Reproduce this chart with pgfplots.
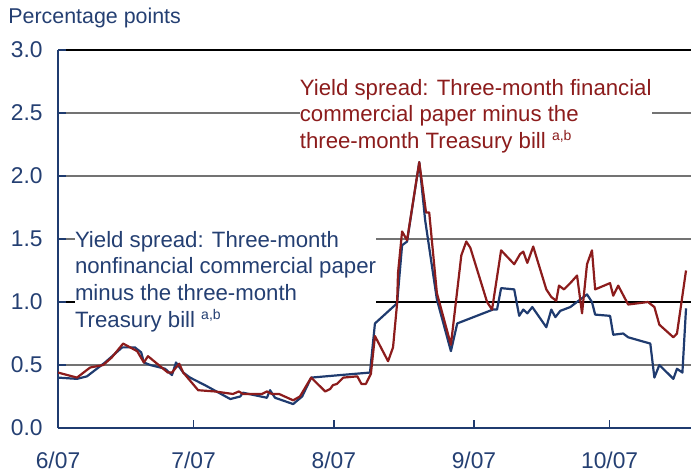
\documentclass[border=0pt]{standalone}
\usepackage{fontspec}
\setmainfont{Liberation Sans}
\usepackage{pgfplots}
\usepackage{pgfplotstable}
\pgfplotsset{compat=1.18}
\definecolor{navy}{HTML}{1F3B6F}
\definecolor{darkred}{HTML}{8C1C1C}
\definecolor{txtblue}{HTML}{243F72}

% x = days since 1 June 2007, y = percentage points
\pgfplotstableread{
x y
0 0.40
4.2 0.39
6.4 0.41
10.4 0.52
14.2 0.64
17.0 0.64
18.4 0.60
19.0 0.52
20.4 0.50
23.7 0.47
25.2 0.42
26.1 0.52
27.7 0.44
29.2 0.40
32.5 0.34
38.1 0.23
40.3 0.25
40.9 0.28
46.2 0.24
46.9 0.30
48.0 0.24
52.0 0.19
54.0 0.25
56.0 0.40
62.4 0.42
69.0 0.44
70.1 0.83
75.0 0.99
76.1 1.45
77.2 1.48
79.9 2.11
81.2 1.65
83.8 1.02
86.9 0.61
88.3 0.83
96.2 0.94
97.1 0.94
98.0 1.11
100.9 1.10
102.0 0.89
102.9 0.94
103.8 0.91
104.9 0.96
108.0 0.80
109.1 0.94
110.0 0.88
111.1 0.93
113.3 0.96
117.0 1.06
118.1 1.00
118.8 0.90
122.1 0.89
122.8 0.74
125.0 0.75
126.1 0.72
131.0 0.67
131.9 0.40
133.0 0.50
136.1 0.39
136.9 0.47
138.1 0.44
138.9 0.95
}\nonfin

\pgfplotstableread{
x y
0 0.44
4.2 0.40
7.1 0.48
10.0 0.50
11.9 0.56
14.4 0.67
17.5 0.61
19.0 0.52
19.9 0.57
24.3 0.44
25.2 0.44
26.8 0.51
27.7 0.44
31.0 0.30
34.7 0.29
38.7 0.27
40.0 0.29
40.9 0.27
45.1 0.27
46.2 0.29
47.3 0.27
48.9 0.27
52.0 0.22
53.5 0.25
56.0 0.40
59.1 0.29
60.2 0.31
60.8 0.34
61.7 0.35
63.1 0.40
66.2 0.41
67.1 0.35
68.1 0.35
69.2 0.43
70.1 0.73
73.0 0.53
74.1 0.64
75.0 0.99
75.2 1.23
76.1 1.56
77.2 1.49
79.9 2.11
81.4 1.71
82.1 1.71
83.8 1.07
86.9 0.66
89.2 1.37
90.3 1.48
91.2 1.43
94.9 1.00
96.0 0.94
98.0 1.41
100.9 1.30
102.2 1.38
102.9 1.40
103.8 1.31
105.1 1.44
108.0 1.10
109.1 1.04
110.2 1.01
110.8 1.13
111.9 1.10
113.3 1.15
114.8 1.21
115.9 0.91
117.0 1.30
118.1 1.41
118.8 1.10
122.1 1.15
122.8 1.05
123.9 1.13
126.1 0.98
130.5 1.00
131.9 0.96
133.0 0.82
136.1 0.72
136.9 0.75
138.9 1.25
}\fin

\begin{document}
\begin{tikzpicture}[font=\fontsize{11.1}{13.4}\selectfont]
\begin{axis}[
  at={(0,0)}, anchor=south west,
  scale only axis, width=316.5pt, height=189pt,
  xmin=0, xmax=140, ymin=0, ymax=3,
  axis lines=left,
  axis line style={-, draw=navy, line width=1.1pt},
  xtick={0,30,61,92,122},
  xticklabels={6/07,7/07,8/07,9/07,10/07},
  ytick={0,0.5,1,1.5,2,2.5,3},
  yticklabels={0.0,0.5,1.0,1.5,2.0,2.5,3.0},
  tick align=inside, major tick length=4pt,
  tick style={draw=navy, line width=0.8pt},
  ymajorgrids, grid style={draw=black!55, line width=0.7pt},
  extra y ticks={1,3}, extra y tick labels={},
  extra y tick style={grid style={draw=black, line width=0.7pt}},
  ticklabel style={text=txtblue, font=\fontsize{11.4}{13.5}\selectfont},
  xticklabel style={yshift=-8.5pt},
  yticklabel style={xshift=-4.2pt},
  clip=false,
]
\node[anchor=north west, inner sep=0pt, outer sep=0pt, align=left, text=darkred, fill=white] at (axis cs:53.5,2.77)
  {Yield spread: Three-month financial\\commercial paper minus the\\three-month Treasury bill \textsuperscript{\fontsize{7}{8}\selectfont a,b}};
\node[anchor=north west, inner sep=0pt, outer sep=0pt, align=left, text=txtblue, fill=white] at (axis cs:3.76,1.563)
  {Yield spread: Three-month\\nonfinancial commercial paper\\minus the three-month\\Treasury bill \textsuperscript{\fontsize{7}{8}\selectfont a,b}};
\addplot[navy, line width=1.1pt, line join=round] table[x=x,y=y] {\nonfin};
\addplot[darkred, line width=1.1pt, line join=round] table[x=x,y=y] {\fin};
\end{axis}
\node[anchor=base west, inner sep=0pt, text=txtblue, font=\fontsize{10.7}{12}\selectfont] at (-25pt,202pt) {Percentage points};
\pgfresetboundingbox
\path[use as bounding box] (-29pt,-22pt) rectangle (316.5pt,214pt);
\end{tikzpicture}
\end{document}
